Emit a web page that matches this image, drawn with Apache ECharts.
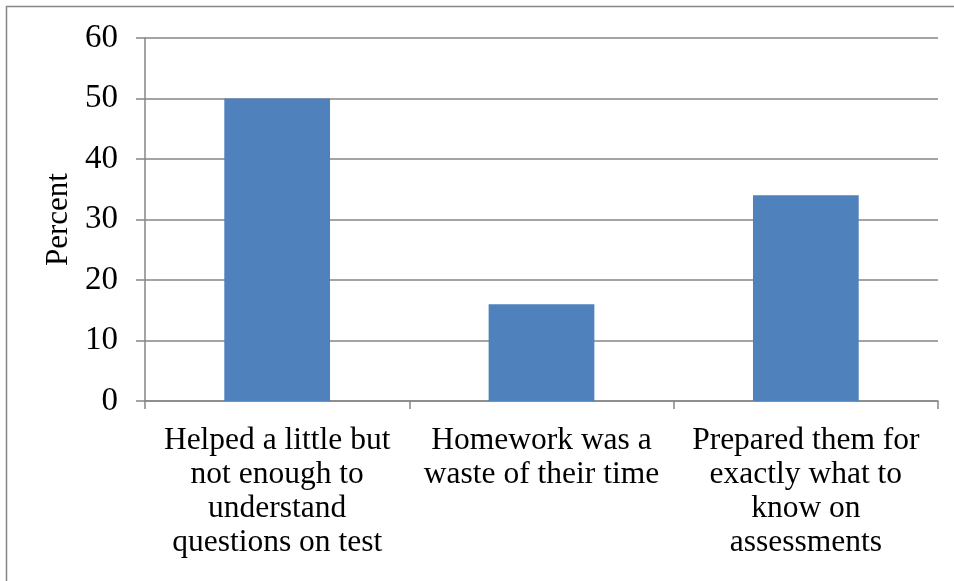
<!DOCTYPE html>
<html>
<head>
<meta charset="utf-8">
<script src="https://cdn.jsdelivr.net/npm/echarts@6/dist/echarts.min.js"></script>
<style>
html,body{margin:0;padding:0;background:#fff;}
#chart{width:954px;height:581px;}
</style>
</head>
<body>
<div id="chart"></div>
<script>
const categories = [
  "Helped a little but\nnot enough to\nunderstand\nquestions on test",
  "Homework was a\nwaste of their time",
  "Prepared them for\nexactly what to\nknow on\nassessments"
];
const percentValues = [50, 16, 34];
const yTicks = [0, 10, 20, 30, 40, 50, 60];

const FONT = '"Liberation Serif", "Times New Roman", serif';
const chart = echarts.init(document.getElementById('chart'), null, {renderer: 'canvas'});
chart.setOption({
  animation: false,
  backgroundColor: '#ffffff',
  graphic: [{
    type: 'rect',
    shape: {x: 6.5, y: 6.5, width: 1000, height: 1000},
    style: {fill: 'none', stroke: '#868686', lineWidth: 1.5},
    silent: true
  }],
  grid: {left: 145, right: 16, top: 38, bottom: 180, containLabel: false},
  xAxis: {
    type: 'category',
    data: categories,
    axisLine: {lineStyle: {color: '#868686', width: 1.5}},
    axisTick: {show: true, length: 8, lineStyle: {color: '#868686', width: 1.5}},
    axisLabel: {
      color: '#000', fontFamily: FONT, fontSize: 31.5, lineHeight: 34,
      margin: 23, interval: 0, align: 'center'
    }
  },
  yAxis: {
    type: 'value',
    min: yTicks[0], max: yTicks[yTicks.length - 1], interval: 10,
    name: 'Percent',
    nameLocation: 'middle',
    nameGap: 71,
    nameRotate: 90,
    nameTextStyle: {color: '#000', fontFamily: FONT, fontSize: 31},
    axisLine: {show: true, lineStyle: {color: '#868686', width: 1.5}},
    axisTick: {show: true, length: 9, lineStyle: {color: '#868686', width: 1.5}},
    splitLine: {show: true, lineStyle: {color: '#868686', width: 1.5}},
    axisLabel: {color: '#000', fontFamily: FONT, fontSize: 33, margin: 27}
  },
  series: [{
    type: 'bar',
    data: percentValues,
    barWidth: '40%',
    itemStyle: {color: '#4F81BD'}
  }]
});
</script>
</body>
</html>
